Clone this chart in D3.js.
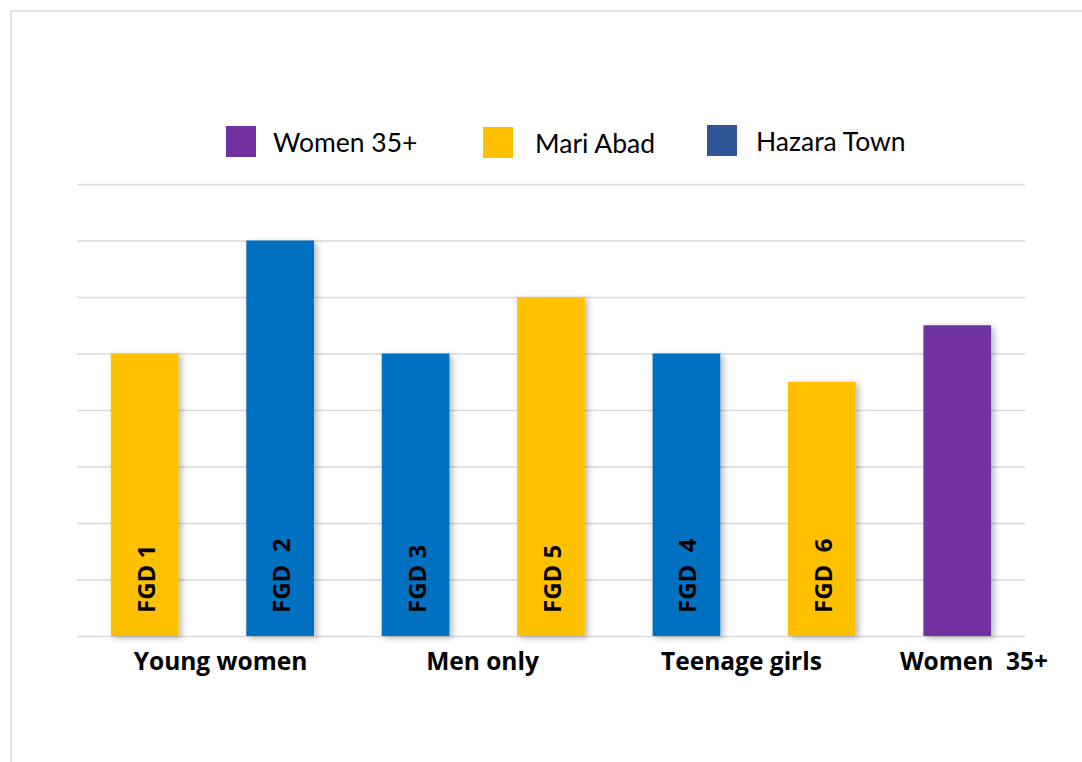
<!DOCTYPE html>
<html><head><meta charset="utf-8">
<script src="https://cdn.jsdelivr.net/npm/d3@7"></script>
<style>body{margin:0;background:#fff}svg{display:block}</style>
</head><body>
<svg id="c" width="1082" height="762"></svg>
<script>
const barLabels = ["FGD 1","FGD  2","FGD 3","FGD 5","FGD  4","FGD  6",""];
const barValues = [5, 7, 5, 6, 5, 4.5, 5.5];
const barSeries = ["Mari Abad","Hazara Town","Hazara Town","Mari Abad","Hazara Town","Mari Abad","Women 35+"];
const groups = ["Young women","Men only","Teenage girls","Women  35+"];
const legendItems = ["Women 35+","Mari Abad","Hazara Town"];
const barColors = {"Mari Abad":"#FFC000","Hazara Town":"#0070C0","Women 35+":"#7030A0"};
const legendColors = {"Women 35+":"#7030A0","Mari Abad":"#FFC000","Hazara Town":"#2F5597"};
const yTicks = [0,1,2,3,4,5,6,7,8];

const svg = d3.select("#c");
const defs = svg.append("defs");
const f = defs.append("filter").attr("id","sh").attr("x","-20%").attr("y","-20%").attr("width","150%").attr("height","150%");
f.append("feDropShadow").attr("dx",3).attr("dy",2).attr("stdDeviation",3).attr("flood-color","#000").attr("flood-opacity",0.28);

svg.append("rect").attr("x",11).attr("y",11).attr("width",1200).attr("height",900)
  .attr("fill","none").attr("stroke","#d9d9d9").attr("stroke-width",1.5);

const pL=77, pR=1025, pT=184, pB=636;
const x = d3.scaleBand().domain(d3.range(barValues.length)).range([pL,pR]).paddingInner(0.5).paddingOuter(0.25);
const y = d3.scaleLinear().domain([0,8]).range([pB,pT]);

const grid = svg.append("g").attr("class","grid");
grid.call(d3.axisLeft(y).tickValues(yTicks).tickSize(-(pR-pL)).tickFormat(""))
  .attr("transform",`translate(${pL},0)`);
grid.select(".domain").remove();
grid.selectAll("line").attr("stroke","#d9d9d9").attr("stroke-width",1.5);

svg.append("g").selectAll("rect").data(barValues).join("rect")
  .attr("x",(d,i)=>x(i)).attr("y",d=>y(d)).attr("width",x.bandwidth()).attr("height",d=>pB-y(d))
  .attr("fill",(d,i)=>barColors[barSeries[i]]).attr("filter","url(#sh)");

svg.append("g").selectAll("text").data(barLabels).join("text")
  .attr("transform",(d,i)=>`translate(${x(i)+x.bandwidth()/2+10},${pB-23}) rotate(-90)`)
  .attr("text-anchor","start").attr("font-family","'Open Sans', sans-serif").attr("font-weight","bold")
  .attr("font-size",24).attr("fill","#000").style("white-space","pre")
  .text(d=>d);

const gx = [220.5,482.5,741.5,974];
svg.append("g").selectAll("text").data(groups).join("text")
  .attr("x",(d,i)=>gx[i])
  .attr("y",670).attr("text-anchor","middle").attr("font-family","'Open Sans', sans-serif").attr("font-weight","bold")
  .attr("font-size",24.5).attr("fill","#000").style("white-space","pre").text(d=>d);

const legX=[226,483,707], legTextX=[273,535,756], legY=[126,127,125];
const lg = svg.append("g");
legendItems.forEach((n,i)=>{
  lg.append("rect").attr("x",legX[i]).attr("y",legY[i]).attr("width",30).attr("height",31).attr("fill",legendColors[n]);
  lg.append("text").attr("x",legTextX[i]).attr("y",legY[i]+26).attr("font-family","Lato, sans-serif")
    .attr("font-size",26.5).attr("fill","#000").text(n);
});
</script>
</body></html>
